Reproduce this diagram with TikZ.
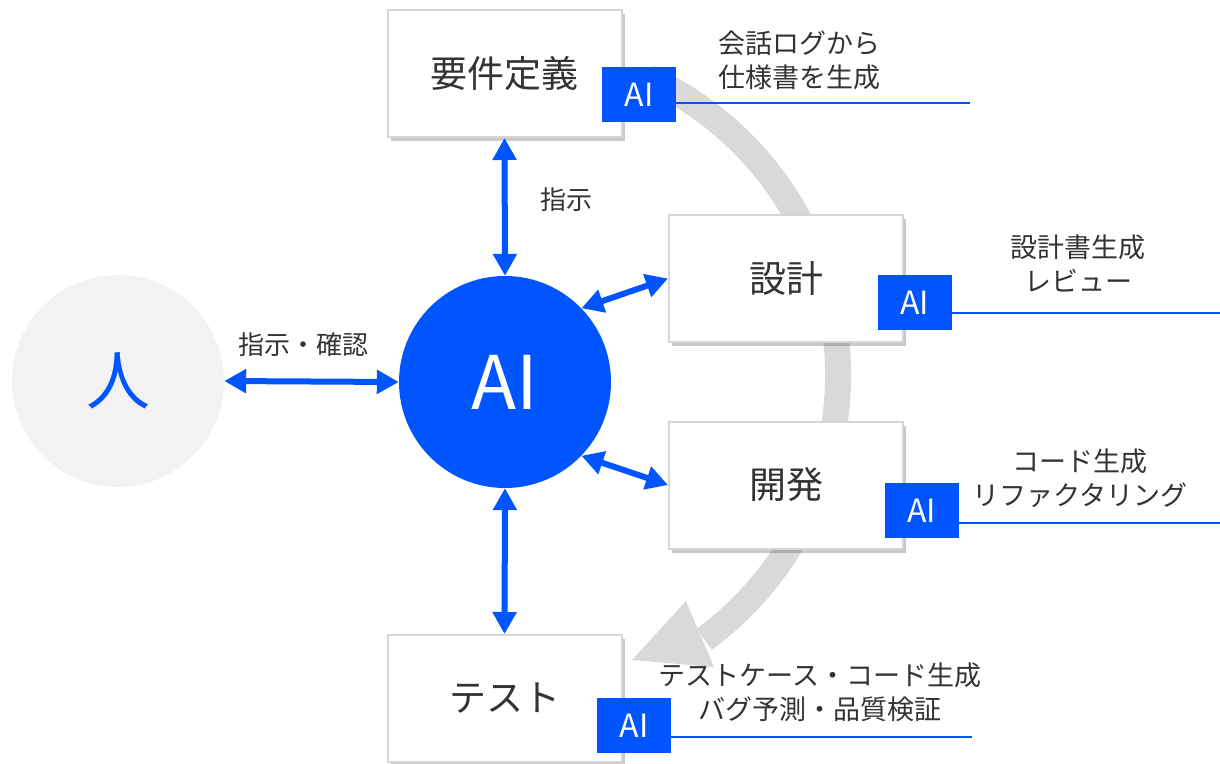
\documentclass[tikz,border=0pt]{standalone}
\usepackage{fontspec}
\setmainfont{Noto Sans CJK JP}
\usetikzlibrary{arrows.meta,shadows}
\definecolor{aiblue}{RGB}{0,85,255}
\definecolor{arcgray}{RGB}{217,217,217}
\definecolor{boxline}{RGB}{214,214,214}
\definecolor{txt}{RGB}{51,51,51}
\definecolor{personfill}{RGB}{242,242,242}
\begin{document}
\begin{tikzpicture}[x=1pt,y=-1pt,
  phase/.style={draw=boxline, line width=2pt, fill=white, minimum width=234pt, minimum height=127pt, inner sep=0pt, text=txt, font=\fontsize{37}{44}\selectfont, drop shadow={shadow xshift=3pt, shadow yshift=-4pt, opacity=0.3, fill=black!70}},
  aitag/.style={fill=aiblue, text=white, minimum width=74pt, minimum height=55pt, inner sep=0pt, font=\fontsize{32}{38}\selectfont},
  desc/.style={text=txt, align=center, font=\fontsize{27}{34}\selectfont, inner sep=0pt},
  link/.style={draw=aiblue, line width=6pt, {Triangle[width=23pt,length=22pt]}-{Triangle[width=23pt,length=22pt]}},
  uline/.style={draw=aiblue, line width=1.5pt},
  lbl/.style={text=txt, font=\fontsize{26}{32}\selectfont, inner sep=0pt}
]
\useasboundingbox (0,0) rectangle (1220,763);

% flow arc (background)
\fill[arcgray] (632,660) -- (686,601) -- (714,667) -- cycle;
\draw[arcgray, line width=26pt] (510,375) ++(-65:328) arc[start angle=-65, end angle=53.7, radius=328];

% circles
\node[circle, fill=personfill, minimum size=212pt, inner sep=0pt, text=aiblue, font=\fontsize{64}{70}\selectfont] (person) at (118,381) {人};
\node[circle, fill=aiblue, minimum size=212pt, inner sep=0pt, text=white, font=\fontsize{74}{80}\selectfont] (ai) at (505,382) {AI};

% phase boxes
\node[phase] (req) at (504.5,73.5) {要件定義};
\node[phase] (design) at (786,278.5) {設計};
\node[phase] (dev) at (786,485) {開発};
\node[phase] (test) at (504.5,698.5) {テスト};

% AI tags
\node[aitag] (reqai) at (639,94.5) {AI};
\node[aitag] (designai) at (914.5,302.5) {AI};
\node[aitag] (devai) at (921.5,510.5) {AI};
\node[aitag] (testai) at (634,725.5) {AI};

% underlines
\coordinate (reqend) at (970,103);
\coordinate (designend) at (1220,313);
\coordinate (devend) at (1220,523);
\coordinate (testend) at (972,737);
\draw[uline] (reqai.east |- reqend) -- (reqend);
\draw[uline] (designai.east |- designend) -- (designend);
\draw[uline] (devai.east |- devend) -- (devend);
\draw[uline] (testai.east |- testend) -- (testend);

% descriptions
\node[desc] (reqdesc) at (799,60) {会話ログから\\仕様書を生成};
\node[desc] (designdesc) at (1078,263.5) {設計書生成\\レビュー};
\node[desc] (devdesc) at (1080,478) {コード生成\\リファクタリング};
\node[desc] (testdesc) at (820,692) {テストケース・コード生成\\バグ予測・品質検証};

% connectors
\draw[link] (person.east) -- (ai.west);
\draw[link] (req.south) -- (ai.north);
\draw[link] (ai.south) -- (test.north);
\draw[link] (ai.44) -- (design.west);
\draw[link] (ai.-44) -- (dev.west);

% labels
\node[lbl] (l1) at (303,345) {指示・確認};
\node[lbl] (l2) at (566,200) {指示};
\end{tikzpicture}
\end{document}
